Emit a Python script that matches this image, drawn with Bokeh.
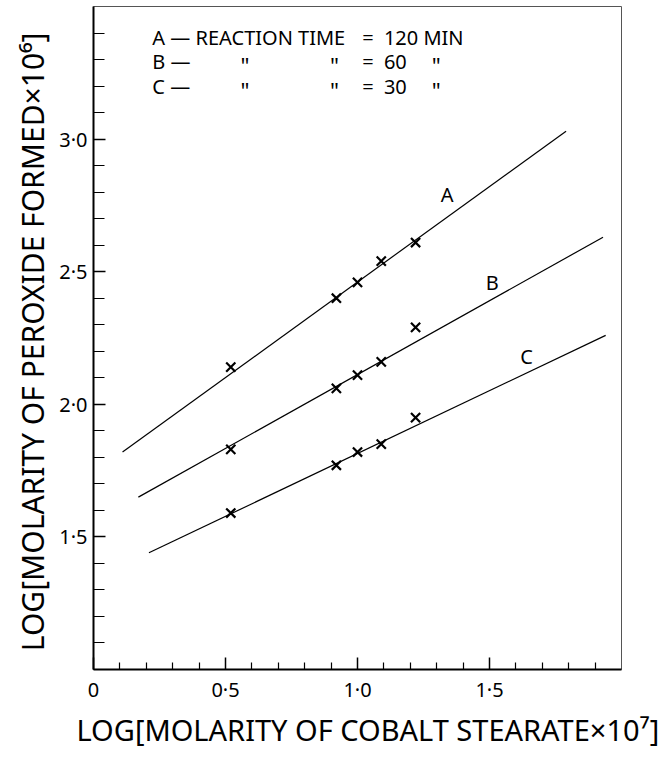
from bokeh.plotting import figure
from bokeh.models import FixedTicker, Title
from bokeh.core.properties import value
from bokeh.embed import file_html
from bokeh.resources import INLINE

FONT = "Noto Sans"

# measured points: log[cobalt stearate x1e7] vs log[peroxide x1e6]
x_vals = [0.52, 0.92, 1.00, 1.09, 1.22]
a_vals = [2.14, 2.40, 2.46, 2.54, 2.61]
b_vals = [1.83, 2.06, 2.11, 2.16, 2.29]
c_vals = [1.59, 1.77, 1.82, 1.85, 1.95]

# fitted straight lines (end points)
a_line_x = [0.11, 1.79]
a_line_y = [1.82, 3.03]
b_line_x = [0.17, 1.93]
b_line_y = [1.65, 2.63]
c_line_x = [0.21, 1.94]
c_line_y = [1.44, 2.26]

# curve labels
curve_names = ["A", "B", "C"]
curve_lab_x = [1.34, 1.51, 1.64]
curve_lab_y = [2.79, 2.46, 2.18]

x_title = "LOG[MOLARITY OF COBALT STEARATE×10⁷]"
y_title = "LOG[MOLARITY OF PEROXIDE  FORMED×10⁶]"

x_major = [0.0, 0.5, 1.0, 1.5]
x_major_labels = {0.0: "0", 0.5: "0·5", 1.0: "1·0", 1.5: "1·5"}
x_minor = [0.1, 0.2, 0.3, 0.4, 0.6, 0.7, 0.8, 0.9, 1.1, 1.2, 1.3, 1.4, 1.6, 1.7, 1.8, 1.9]
y_major = [1.5, 2.0, 2.5, 3.0]
y_major_labels = {1.5: "1·5", 2.0: "2·0", 2.5: "2·5", 3.0: "3·0"}
y_minor = [1.1, 1.2, 1.3, 1.4, 1.6, 1.7, 1.8, 1.9, 2.1, 2.2, 2.3, 2.4,
           2.6, 2.7, 2.8, 2.9, 3.1, 3.2, 3.3, 3.4]

p = figure(width=664, height=750, x_range=(0, 2), y_range=(1, 3.5),
           output_backend="svg", toolbar_location=None,
           min_border_left=93, min_border_right=43,
           min_border_top=6, min_border_bottom=74)
p.xgrid.visible = False
p.ygrid.visible = False
p.outline_line_color = "#555555"
p.outline_line_width = 1
p.background_fill_color = "white"
p.border_fill_color = "white"

xa = p.xaxis[0]
xa.ticker = FixedTicker(ticks=x_major, minor_ticks=x_minor)
xa.major_label_overrides = x_major_labels
xa.major_tick_in = 12
xa.major_tick_out = 0
xa.minor_tick_in = 7
xa.minor_tick_out = 0
xa.axis_line_width = 2
xa.major_tick_line_width = 1.5
xa.minor_tick_line_width = 1.2
xa.major_label_text_font = FONT
xa.major_label_text_font_size = "20px"
xa.major_label_text_color = "black"
xa.major_label_standoff = 6

ya = p.yaxis[0]
ya.ticker = FixedTicker(ticks=y_major, minor_ticks=y_minor)
ya.major_label_overrides = y_major_labels
ya.major_tick_in = 12
ya.major_tick_out = 0
ya.minor_tick_in = 11
ya.minor_tick_out = 0
ya.axis_line_width = 2
ya.major_tick_line_width = 1.5
ya.minor_tick_line_width = 1.2
ya.major_label_text_font = FONT
ya.major_label_text_font_size = "20px"
ya.major_label_text_color = "black"
ya.major_label_standoff = 6

# axis titles as side titles
p.add_layout(Title(text=x_title, align="left", offset=-17, standoff=4,
                   text_font=FONT, text_font_size="29px",
                   text_font_style="normal", text_color="black"), "below")
p.add_layout(Title(text=y_title, align="center", standoff=8,
                   text_font=FONT, text_font_size="30px",
                   text_font_style="normal", text_color="black"), "left")

for lx, ly in [(a_line_x, a_line_y), (b_line_x, b_line_y), (c_line_x, c_line_y)]:
    p.line(lx, ly, line_color="black", line_width=1.2)

for yv in [a_vals, b_vals, c_vals]:
    p.scatter(x_vals, yv, marker="x", size=13, line_color="black", line_width=2.2)

p.text(curve_lab_x, curve_lab_y, text=curve_names, text_font=value(FONT),
       text_font_size="20px", text_align="center", text_baseline="middle",
       text_color="black")

# legend block
row_y = [3.384, 3.291, 3.198]
p.text([0.223], [row_y[0]], text=["A — REACTION TIME"], text_font=value(FONT),
       text_font_size="20px", text_align="left", text_baseline="middle", text_color="black")
p.text([0.223, 0.223], row_y[1:], text=["B —", "C —"], text_font=value(FONT),
       text_font_size="20px", text_align="left", text_baseline="middle", text_color="black")
p.text([1.04, 1.04, 1.04], row_y, text=["=", "=", "="], text_font=value(FONT),
       text_font_size="20px", text_align="center", text_baseline="middle", text_color="black")
p.text([1.10], [row_y[0]], text=["120 MIN"], text_font=value(FONT),
       text_font_size="20px", text_align="left", text_baseline="middle", text_color="black")
p.text([1.10, 1.10], row_y[1:], text=["60", "30"], text_font=value(FONT),
       text_font_size="20px", text_align="left", text_baseline="middle", text_color="black")
ditto_x = [0.574, 0.913, 1.298, 0.574, 0.913, 1.298]
ditto_y = [row_y[1] - 0.012] * 3 + [row_y[2] - 0.012] * 3
p.text(ditto_x, ditto_y, text=['"'] * 6, text_font=value(FONT),
       text_font_size="22px", text_align="center", text_baseline="middle", text_color="black")

open("out.html", "w").write(file_html(p, INLINE))
